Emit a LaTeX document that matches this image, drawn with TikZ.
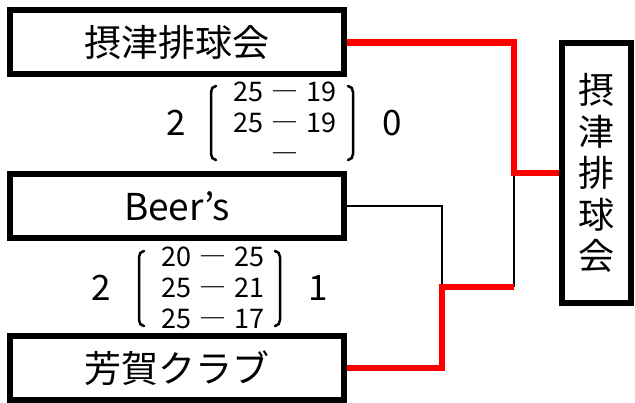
\documentclass[tikz,border=0pt]{standalone}
\usepackage{fontspec}
\setmainfont{Noto Sans CJK JP}
\usetikzlibrary{calc}

\begin{document}
\begin{tikzpicture}[x=1pt,y=-1pt,
  team/.style={draw,line width=6pt,minimum width=334pt,minimum height=64pt,inner sep=0pt,font=\fontsize{37}{37}\selectfont},
  champ/.style={draw,line width=6pt,minimum width=69pt,minimum height=260pt,inner sep=0pt,align=center,font=\fontsize{36}{41.5}\selectfont},
  win/.style={red,line width=6.5pt},
  lose/.style={black,line width=2.5pt},
  score/.style={align=center,inner sep=0pt,font=\fontsize{27}{31}\selectfont},
  sets/.style={inner sep=0pt,font=\fontsize{35}{35}\selectfont},
  paren/.style={line width=2.5pt,line cap=round}]
\useasboundingbox (0,0) rectangle (635,403);

% teams
\node[team] (sesshu) at (177,42.5) {摂津排球会};
\node[team] (beers) at (177,206) {Beer’s};
\node[team] (haga) at (177,368) {芳賀クラブ};
\node[champ] (champ) at (596.5,173) {摂\\津\\排\\球\\会};

% match 1
\node[sets] (won1) at (176,123) {2};
\node[score] (set1) at (285,123) {25\hspace{8pt}―\hspace{8pt}19\\25\hspace{8pt}―\hspace{8pt}19\\―};
\node[sets] (lost1) at (392,123) {0};
% match 2
\node[sets] (won2) at (101,288) {2};
\node[score] (set2) at (213,288) {20\hspace{8pt}―\hspace{8pt}25\\25\hspace{8pt}―\hspace{8pt}21\\25\hspace{8pt}―\hspace{8pt}17};
\node[sets] (lost2) at (318,288) {1};

% brackets
\foreach \l/\r/\t/\b in {211/353/86/160,139/280/251/326}{
  \draw[paren] (\l+5,\t) to[out=180,in=90] (\l,\t+6) -- (\l,\b-6) to[out=-90,in=180] (\l+5,\b);
  \draw[paren] (\r-5,\t) to[out=0,in=90] (\r,\t+6) -- (\r,\b-6) to[out=-90,in=0] (\r-5,\b);
}

% lines
\coordinate (semi) at (442,287);
\coordinate (final) at (514,173);
\draw[lose] (beers.east) -| (semi);
\draw[lose] (semi -| final) -- (final);
\draw[win] (haga.east) -| (semi) -- (semi -| final);
\draw[win] (sesshu.east) -| (final) -- (champ.west);
\end{tikzpicture}
\end{document}
